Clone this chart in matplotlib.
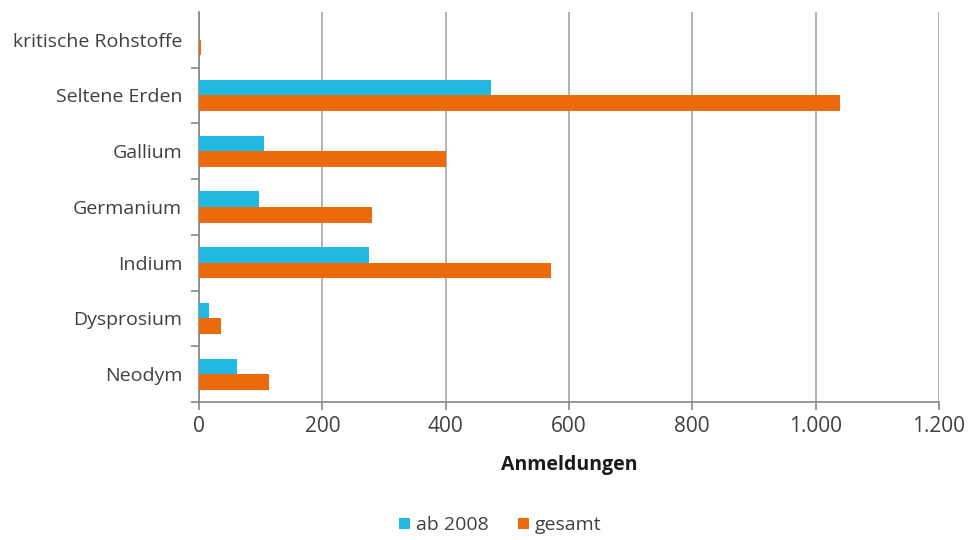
import matplotlib
matplotlib.use("Agg")
import matplotlib.pyplot as plt
from matplotlib.ticker import FuncFormatter, FixedLocator
import numpy as np

plt.rcParams['font.family'] = ['Open Sans', 'DejaVu Sans']

categories = ["kritische Rohstoffe", "Seltene Erden", "Gallium", "Germanium",
              "Indium", "Dysprosium", "Neodym"]
ab_2008 = [0, 474, 106, 98, 276, 17, 61]
gesamt = [4, 1039, 400, 281, 571, 35, 114]
x_ticks = [0, 200, 400, 600, 800, 1000, 1200]

col_ab = "#21B9E1"
col_ges = "#EB6B0C"
text_col = "#404040"
grid_col = "#A6A6A6"

fig = plt.figure(figsize=(9.77, 5.4), dpi=100)
ax = fig.add_axes([0.2037, 0.2556, 0.7573, 0.7224])

n = len(categories)
y = np.arange(n)[::-1].astype(float)
h = 0.28

ax.barh(y + h / 2, ab_2008, height=h, color=col_ab, label="ab 2008", zorder=3)
ax.barh(y - h / 2, gesamt, height=h, color=col_ges, label="gesamt", zorder=3)

ax.set_xlim(0, 1200)
ax.set_ylim(-0.5, n - 0.5)
ax.set_xticks(x_ticks)
ax.xaxis.set_major_formatter(FuncFormatter(lambda v, p: f"{int(v):,}".replace(",", ".")))
ax.grid(axis="x", color=grid_col, linewidth=1.2, zorder=0)

ax.set_yticks(y)
ax.set_yticklabels(categories)
ax.yaxis.set_minor_locator(FixedLocator(np.arange(n) - 0.5))
ax.tick_params(axis="y", which="major", length=0, pad=12, labelsize=14, labelcolor=text_col)
ax.tick_params(axis="y", which="minor", length=6, color="#868686", width=1.2)
ax.tick_params(axis="x", which="major", length=6, color="#868686", width=1.2,
               labelsize=15, labelcolor=text_col, pad=4)

for s in ["top", "right"]:
    ax.spines[s].set_visible(False)
for s in ["left", "bottom"]:
    ax.spines[s].set_color("#868686")
    ax.spines[s].set_linewidth(1.2)

ax.set_xlabel("Anmeldungen", fontsize=14, fontweight="bold", color="#1a1a1a", labelpad=13)

leg = fig.legend(loc="lower center", bbox_to_anchor=(0.512, -0.022), ncol=2, frameon=False,
                 fontsize=14, handlelength=0.55, handleheight=0.55, handletextpad=0.3,
                 columnspacing=1.5, labelcolor=text_col)

fig.savefig("out.png", dpi=100)
